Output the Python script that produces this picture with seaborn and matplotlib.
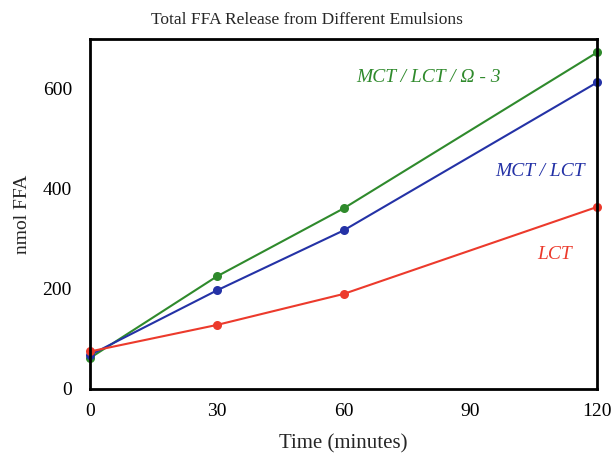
import pandas as pd
import matplotlib
matplotlib.use('Agg')
import matplotlib.pyplot as plt
import seaborn as sns

# values
time_min = [0, 30, 60, 120]
ffa_omega3 = [62, 225, 361, 673]
ffa_mct_lct = [68, 197, 317, 613]
ffa_lct = [75, 128, 190, 364]

series_names = ['MCT / LCT / Ω - 3', 'MCT / LCT', 'LCT']
series_colors = ['#2f8a2c', '#2432a6', '#ec3a2c']

df = pd.DataFrame({
    'time': time_min * 3,
    'ffa': ffa_omega3 + ffa_mct_lct + ffa_lct,
    'emulsion': [n for n in series_names for _ in time_min],
})

sns.set_theme(style="white")
plt.rcParams['font.family'] = ['Liberation Serif', 'DejaVu Serif']

fig = plt.figure(figsize=(6.14, 4.55), dpi=100)
ax = fig.add_axes([0.1466, 0.1451, 0.8257, 0.7692])

sns.lineplot(data=df, x='time', y='ffa', hue='emulsion', hue_order=series_names,
             palette=series_colors, marker='o', markersize=6.5, markeredgewidth=0,
             linewidth=1.5, legend=False, ax=ax)
for ln in ax.lines:
    ln.set_clip_on(False)

ax.set_xlim(0, 120)
ax.set_ylim(0, 700)
ax.set_xticks([0, 30, 60, 90, 120])
ax.set_yticks([0, 200, 400, 600])
ax.tick_params(direction='in', length=6, width=2, labelsize=14, colors='black')
ax.tick_params(axis='y', pad=13)
ax.tick_params(axis='x', pad=10)
for s in ax.spines.values():
    s.set_color('black')
    s.set_linewidth(2)

ax.set_xlabel('Time (minutes)', fontsize=15, labelpad=10)
ax.set_ylabel('nmol FFA', fontsize=14, labelpad=8)
fig.text(0.5, 1 - 24 / 455, 'Total FFA Release from Different Emulsions',
         fontsize=12.5, ha='center', va='baseline')

label_pos = [(80, 622), (106.5, 434), (110, 268)]
for name, color, (tx, ty) in zip(series_names, series_colors, label_pos):
    ax.text(tx, ty, name, color=color, style='italic', fontsize=14,
            ha='center', va='center')

fig.savefig('out.png', dpi=100)
